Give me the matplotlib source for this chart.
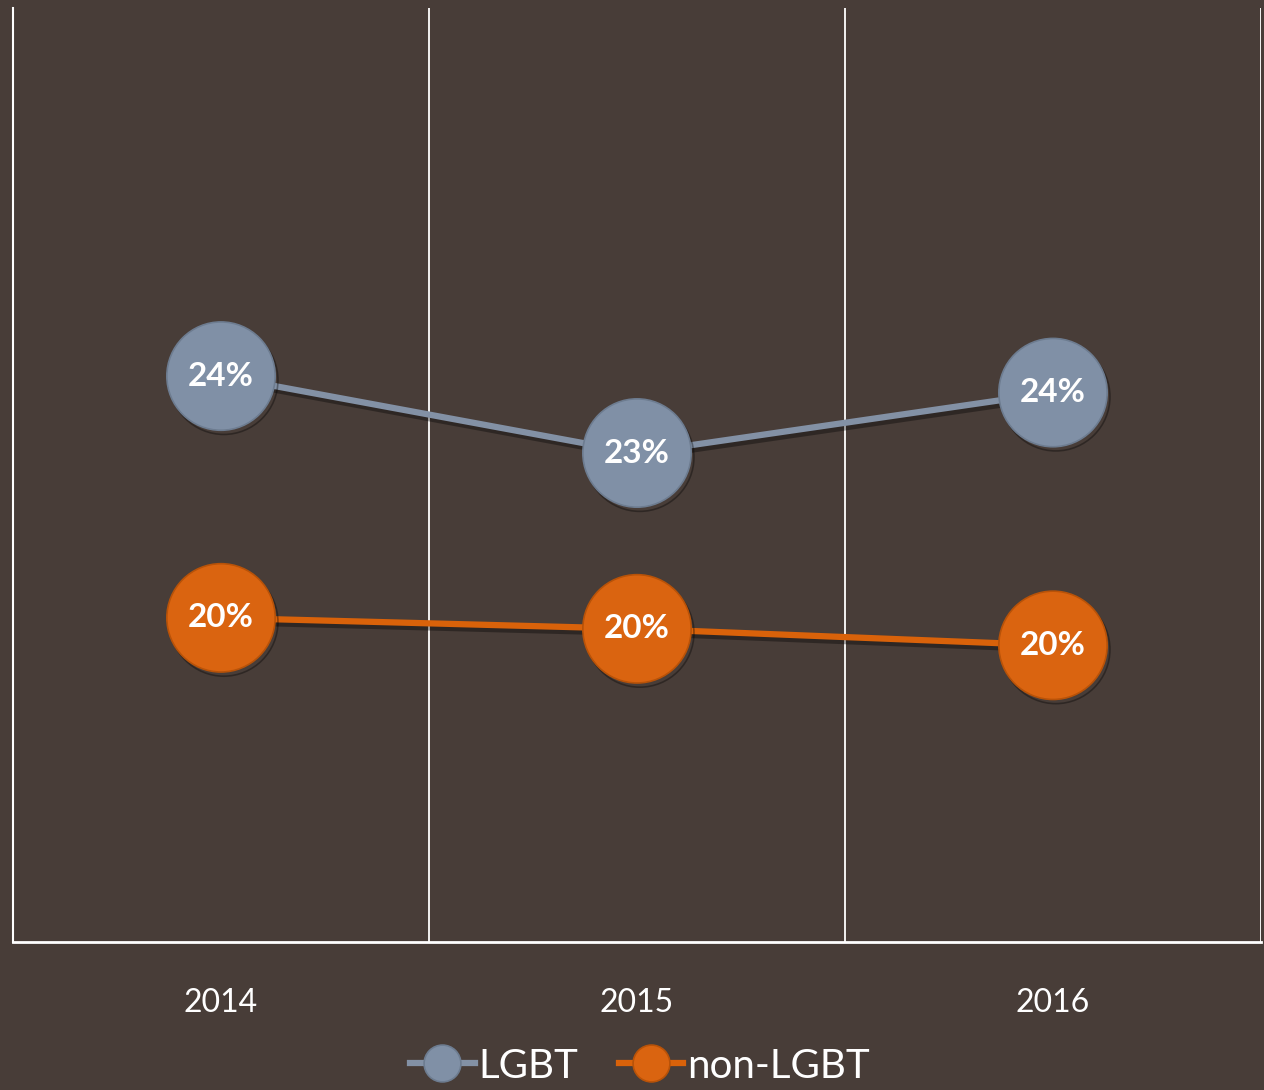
import matplotlib.pyplot as plt
import matplotlib.patheffects as pe

# Dữ liệu
years = ['2014', '2015', '2016']
lgbt = [24.3, 22.9, 24.0]
non_lgbt = [19.9, 19.7, 19.4]
lgbt_labels = ['24%', '23%', '24%']
non_lgbt_labels = ['20%', '20%', '20%']

bg = '#483d38'
c_lgbt = '#8391a5'
c_non = '#d9620a'

plt.rcParams['font.family'] = ['Lato', 'DejaVu Sans']

fig = plt.figure(figsize=(12.64, 10.9), dpi=100, facecolor=bg)
ax = fig.add_axes([13/1264, 148/1090, 1248/1264, 934/1090])
ax.set_facecolor(bg)

x = range(len(years))
shadow = [pe.SimpleLineShadow(offset=(2, -3), shadow_color='black', alpha=0.35), pe.Normal()]
ax.plot(x, lgbt, color=c_lgbt, lw=4.5, marker='o', ms=78, mfc='#8090a6',
        mec='#6d7c90', mew=1.2, label='LGBT', path_effects=shadow, zorder=3)
ax.plot(x, non_lgbt, color=c_non, lw=4.5, marker='o', ms=78, mfc='#da6410',
        mec='#b85208', mew=1.2, label='non-LGBT', path_effects=shadow, zorder=3)

for xi, v, s in zip(x, lgbt, lgbt_labels):
    ax.text(xi, v, s, ha='center', va='center', color='white', fontsize=24,
            fontweight='bold', zorder=5)
for xi, v, s in zip(x, non_lgbt, non_lgbt_labels):
    ax.text(xi, v, s, ha='center', va='center', color='white', fontsize=24,
            fontweight='bold', zorder=5)

ax.set_xlim(-0.5, 2.5)
ax.set_ylim(14, 31)
for gx in [0.5, 1.5, 2.5]:
    ax.axvline(gx, color='white', lw=1.3, zorder=1)
for side in ['top', 'right']:
    ax.spines[side].set_visible(False)
ax.spines['left'].set_color('white')
ax.spines['left'].set_linewidth(1.5)
ax.spines['bottom'].set_color('white')
ax.spines['bottom'].set_linewidth(2)
ax.set_xticks(list(x))
ax.set_xticklabels(years, color='white', fontsize=23)
ax.tick_params(axis='x', length=0, pad=33)
ax.set_yticks([])

leg = fig.legend(loc='center', bbox_to_anchor=(640/1264, 1 - 1066/1090), ncol=2,
                 frameon=False, fontsize=29, markerscale=0.34, handlelength=1.6,
                 handletextpad=0.1, columnspacing=1.0, labelcolor='white')
for h in leg.legend_handles:
    h.set_path_effects([])

plt.savefig('out.png', dpi=100, facecolor=bg)
